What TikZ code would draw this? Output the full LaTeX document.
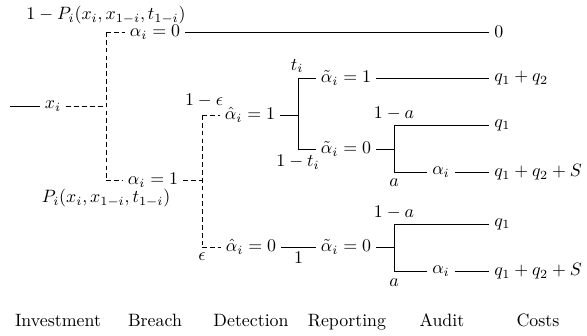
\documentclass[tikz,border=0pt]{standalone}
\usepackage{amsmath}
\begin{document}
\begin{tikzpicture}[x=0.56pt,y=-0.56pt,
  lbl/.style={inner sep=1.5pt},
  nd/.style={inner sep=2.8pt},
  cost/.style={inner sep=2.8pt,anchor=west},
  stage/.style={inner sep=0pt,anchor=base},
  dsh/.style={dash pattern=on 2.6pt off 1.8pt,line width=0.45pt},
  sol/.style={line width=0.45pt}]
\useasboundingbox (0,0) rectangle (587,335);

% Investment
\coordinate (s) at (10,106);
\node[nd] (xi) at (53,106) {$x_i$};
\coordinate (bM) at (106,106);
\coordinate (bT) at (106,32);
\coordinate (bB) at (106,180);
\draw[sol] (s) -- (xi);
\draw[dsh] (xi) -- (bM);
\draw[dsh] (bT) -- (bB);

% Breach
\node[lbl] (pT) at (106,15) {$1-P_i(x_i,x_{1-i},t_{1-i})$};
\node[lbl] (pB) at (106,198) {$P_i(x_i,x_{1-i},t_{1-i})$};
\node[nd] (a0) at (155,32) {$\alpha_i=0$};
\node[nd] (a1) at (153,180) {$\alpha_i=1$};
\node[cost] (c0) at (489,32) {$0$};
\draw[dsh] (bT) -- (a0);
\draw[sol] (a0) -- (c0);
\draw[dsh] (bB) -- (a1);
\coordinate (dM) at (202,180);
\coordinate (dT) at (202,115);
\coordinate (dB) at (202,247);
\draw[dsh] (a1) -- (dM);
\draw[dsh] (dT) -- (dB);

% Detection
\node[lbl] (eps1) at (204,100) {$1-\epsilon$};
\node[lbl] (eps0) at (202,257) {$\epsilon$};
\node[nd] (h1) at (250,115) {$\hat{\alpha}_i=1$};
\node[nd] (h0) at (251,247) {$\hat{\alpha}_i=0$};
\draw[dsh] (dT) -- (h1);
\draw[dsh] (dB) -- (h0);

% Reporting (upper)
\coordinate (rM) at (298,115);
\coordinate (rT) at (298,78);
\coordinate (rB) at (298,149);
\draw[sol] (h1) -- (rM);
\draw[sol] (rT) -- (rB);
\node[lbl] (ti) at (297,66) {$t_i$};
\node[lbl] (ti0) at (298,162) {$1-t_i$};
\node[nd] (t1) at (346,78) {$\tilde{\alpha}_i=1$};
\node[nd] (t0) at (346,149) {$\tilde{\alpha}_i=0$};
\draw[sol] (rT) -- (t1);
\draw[sol] (rB) -- (t0);
\node[cost] (q12) at (489,78) {$q_1+q_2$};
\draw[sol] (t1) -- (q12);

% Audit (upper)
\coordinate (uM) at (394,149);
\coordinate (uT) at (394,125);
\coordinate (uB) at (394,172);
\draw[sol] (t0) -- (uM);
\draw[sol] (uT) -- (uB);
\node[lbl] (ua1) at (394,113) {$1-a$};
\node[lbl] (ua) at (394,183) {$a$};
\node[cost] (uq1) at (489,125) {$q_1$};
\node[nd] (ual) at (441,172) {$\alpha_i$};
\node[cost] (uqS) at (489,172) {$q_1+q_2+S$};
\draw[sol] (uT) -- (uq1);
\draw[sol] (uB) -- (ual);
\draw[sol] (ual) -- (uqS);

% Reporting (lower)
\node[nd] (t0b) at (346,247) {$\tilde{\alpha}_i=0$};
\draw[sol] (h0) -- node[below,lbl,yshift=-1pt] (one) {$1$} (t0b);

% Audit (lower)
\coordinate (lM) at (394,247);
\coordinate (lT) at (394,224);
\coordinate (lB) at (394,271);
\draw[sol] (t0b) -- (lM);
\draw[sol] (lT) -- (lB);
\node[lbl] (la1) at (394,212) {$1-a$};
\node[lbl] (la) at (394,283) {$a$};
\node[cost] (lq1) at (489,224) {$q_1$};
\node[nd] (lal) at (441,271) {$\alpha_i$};
\node[cost] (lqS) at (489,271) {$q_1+q_2+S$};
\draw[sol] (lT) -- (lq1);
\draw[sol] (lB) -- (lal);
\draw[sol] (lal) -- (lqS);

% Stage labels
\node[stage] (L1) at (58,326) {Investment};
\node[stage] (L2) at (155,326) {Breach};
\node[stage] (L3) at (251,326) {Detection};
\node[stage] (L4) at (347,326) {Reporting};
\node[stage] (L5) at (442,326) {Audit};
\node[stage] (L6) at (538,326) {Costs};
\end{tikzpicture}
\end{document}
